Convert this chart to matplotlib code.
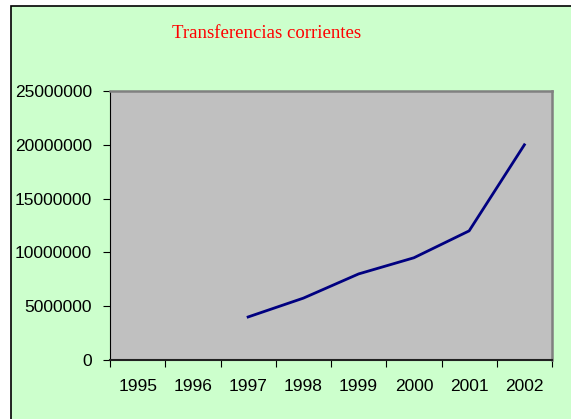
import matplotlib
matplotlib.use('Agg')
import matplotlib.pyplot as plt
from matplotlib.patches import Rectangle
import numpy as np

years = ['1995', '1996', '1997', '1998', '1999', '2000', '2001', '2002']
valores = [np.nan, np.nan, 4000000, 5750000, 8000000, 9500000, 12000000, 20000000]
yticks = [0, 5000000, 10000000, 15000000, 20000000, 25000000]

W, H = 571, 419
fig = plt.figure(figsize=(W / 100, H / 100), dpi=100, facecolor='white')
# chart area background with border (runs off the right/bottom of the image)
fig.patches.append(Rectangle((11 / W, -0.05), 1.1, 1.05 - 6 / H,
                             transform=fig.transFigure, facecolor='#CCFFCC',
                             edgecolor='black', linewidth=1.2, zorder=-10))

ax = fig.add_axes([110 / W, 1 - 360 / H, (552 - 110) / W, (360 - 91) / H])
ax.set_facecolor('#C0C0C0')

x = np.arange(len(years))
ax.plot(x, valores, color='#000080', linewidth=2)

ax.set_xlim(-0.5, len(years) - 0.5)
ax.set_ylim(0, 25000000)
ax.set_yticks(yticks)
ax.set_yticklabels([str(v) for v in yticks])
ax.set_xticks(np.arange(len(years) + 1) - 0.5)
ax.set_xticklabels([])
ax.set_xticks(x, minor=True)
ax.set_xticklabels(years, minor=True)
ax.tick_params(axis='x', which='minor', length=0, pad=14, labelsize=12.5)
ax.tick_params(axis='x', which='major', direction='out', length=5, color='black')
ax.tick_params(axis='y', direction='out', length=5, pad=8, labelsize=12.5)
for lab in ax.get_xticklabels(minor=True) + ax.get_yticklabels():
    lab.set_fontfamily('Liberation Sans')

ax.spines['left'].set_color('black')
ax.spines['bottom'].set_color('#202020')
ax.spines['bottom'].set_linewidth(1.5)
ax.spines['top'].set_color('#808080')
ax.spines['top'].set_linewidth(1.8)
ax.spines['right'].set_color('#808080')
ax.spines['right'].set_linewidth(1.8)

fig.text(267 / W, 1 - 33 / H, 'Transferencias corrientes', color='red',
         fontfamily='Liberation Serif', fontsize=13.5, ha='center', va='center')

fig.savefig('out.png', dpi=100, facecolor=fig.get_facecolor())
